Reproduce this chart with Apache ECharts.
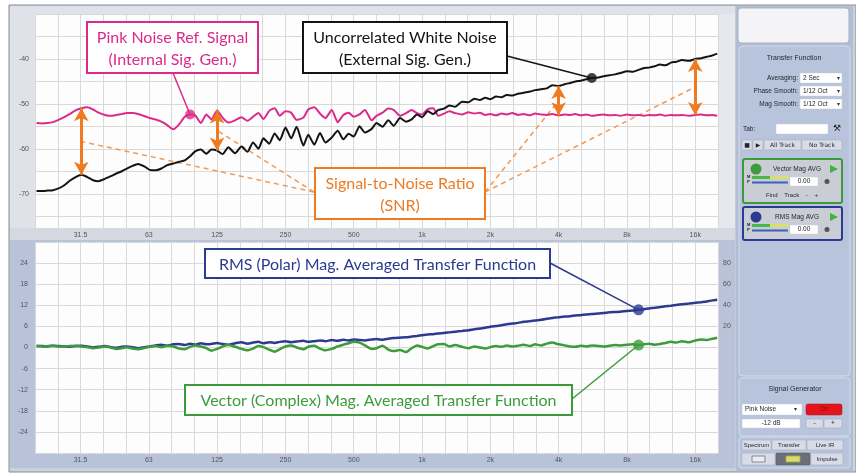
<!DOCTYPE html>
<html>
<head>
<meta charset="utf-8">
<script src="https://cdn.jsdelivr.net/npm/echarts@6/dist/echarts.min.js"></script>
<style>
html,body{margin:0;padding:0;background:#fff;}
#c{width:856px;height:473px;}
</style>
</head>
<body>
<div id="c"></div>
<script>
// 1/12-octave frequency points (Hz)
const freqHz = [
  20, 21.2, 22.4, 23.6, 25, 26.5, 28, 30, 31.5, 33.5,
  35.5, 37.5, 40, 42.5, 45, 47.5, 50, 53, 56, 60,
  63, 67, 71, 75, 80, 85, 90, 95, 100, 106,
  112, 118, 125, 132, 140, 150, 160, 170, 180, 190,
  200, 212, 224, 236, 250, 265, 280, 300, 315, 335,
  355, 375, 400, 425, 450, 475, 500, 530, 560, 600,
  630, 670, 710, 750, 800, 850, 900, 950, 1000, 1060,
  1120, 1180, 1250, 1320, 1400, 1500, 1600, 1700, 1800, 1900,
  2000, 2120, 2240, 2360, 2500, 2650, 2800, 3000, 3150, 3350,
  3550, 3750, 4000, 4250, 4500, 4750, 5000, 5300, 5600, 6000,
  6300, 6700, 7100, 7500, 8000, 8500, 9000, 9500, 10000, 10600,
  11200, 11800, 12500, 13200, 14000, 15000, 16000, 17000, 18000, 19000,
  20000
];

// RTA: internal pink-noise reference (dB)
const pinkNoiseDb = [
  -54.2, -54.3, -54.2, -54.0, -53.5, -52.9, -52.2, -51.3, -50.9, -50.7,
  -51.2, -51.9, -52.4, -52.6, -52.4, -52.2, -52.0, -52.0, -52.2, -52.7,
  -53.1, -53.4, -53.9, -54.6, -55.6, -54.5, -52.8, -52.3, -52.5, -54.2,
  -52.3, -53.4, -51.4, -53.0, -54.1, -53.6, -52.9, -53.7, -52.8, -52.0,
  -53.3, -51.5, -50.9, -52.6, -51.6, -51.9, -53.5, -53.0, -51.2, -50.7,
  -52.1, -53.1, -51.3, -54.0, -52.4, -51.9, -52.8, -52.3, -51.3, -53.6,
  -52.6, -51.9, -51.0, -51.3, -52.6, -52.0, -51.3, -52.0, -52.3, -51.1,
  -50.9, -52.6, -52.1, -51.6, -52.0, -52.3, -51.8, -52.1, -51.9, -52.4,
  -52.2, -52.5, -52.1, -52.3, -52.0, -52.4, -52.2, -52.5, -52.1, -52.3,
  -52.4, -52.2, -52.5, -52.3, -52.4, -52.2, -52.5, -52.3, -52.6, -52.4,
  -52.3, -52.5, -52.4, -52.6, -52.3, -52.5, -52.4, -52.6, -52.4, -52.5,
  -52.3, -52.6, -52.4, -52.5, -52.4, -52.6, -52.4, -52.3, -52.5, -52.4,
  -52.6
];

// RTA: uncorrelated white noise from the external generator (dB)
const whiteNoiseDb = [
  -69.3, -69.3, -69.2, -69.1, -68.7, -68.0, -67.0, -66.1, -65.7, -66.2,
  -66.9, -67.1, -66.6, -66.0, -65.4, -64.9, -64.3, -63.7, -63.3, -63.9,
  -64.6, -64.7, -64.3, -63.6, -63.2, -62.8, -62.5, -61.6, -60.5, -60.1,
  -61.0, -60.1, -60.3, -61.1, -59.6, -60.9, -59.4, -60.6, -58.5, -59.9,
  -57.6, -58.8, -56.5, -58.0, -55.2, -57.6, -55.0, -59.2, -56.8, -59.0,
  -56.4, -58.5, -57.4, -55.9, -57.8, -56.6, -57.2, -54.9, -56.3, -55.5,
  -54.2, -55.0, -53.6, -54.8, -53.1, -53.9, -53.4, -52.3, -52.9, -51.6,
  -52.2, -51.3, -51.0, -50.3, -50.6, -49.5, -49.6, -48.8, -49.1, -48.6,
  -48.9, -48.3, -48.5, -48.0, -48.1, -47.7, -47.5, -47.2, -46.9, -46.7,
  -46.5, -45.8, -46.0, -45.6, -45.3, -45.0, -44.8, -44.5, -44.2, -44.1,
  -43.8, -43.6, -43.4, -43.1, -42.7, -42.8, -42.4, -42.0, -41.9, -41.6,
  -41.2, -41.4, -40.8, -40.6, -40.2, -40.4, -40.0, -39.8, -39.5, -39.2,
  -38.8
];

// Transfer function: RMS (polar) magnitude average (dB)
const rmsMagDb = [
  0.4, 0.4, 0.3, 0.5, 0.4, 0.3, 0.2, 0.4, 0.5, 0.3,
  0.0, 0.2, 0.4, 0.1, -0.1, 0.2, 0.3, 0.1, -0.2, 0.1,
  0.3, 0.6, 0.8, 0.5, 0.9, 1.0, 0.7, 1.1, 0.8, 1.2,
  0.9, 1.0, 1.3, 1.0, 0.8, 1.2, 1.5, 1.1, 1.4, 1.6,
  1.2, 1.5, 1.3, 1.6, 1.8, 1.5, 1.7, 1.9, 1.6, 1.8,
  2.0, 1.8, 2.1, 1.9, 2.2, 2.0, 2.3, 2.1, 2.0, 2.3,
  2.4, 2.2, 2.5, 2.7, 2.8, 2.9, 3.1, 3.3, 3.5, 3.7,
  3.8, 4.0, 4.1, 4.3, 4.5, 4.7, 4.9, 5.2, 5.4, 5.6,
  5.9, 6.1, 6.3, 6.6, 6.8, 7.0, 7.3, 7.5, 7.7, 7.9,
  8.2, 8.4, 8.6, 8.8, 8.9, 9.1, 9.2, 9.4, 9.5, 9.7,
  9.8, 10.0, 10.1, 10.2, 10.4, 10.5, 10.7, 10.9, 11.1, 11.3,
  11.5, 11.7, 11.9, 12.1, 12.3, 12.5, 12.7, 12.9, 13.1, 13.4,
  13.6
];

// Transfer function: vector (complex) magnitude average (dB)
const vectorMagDb = [
  0.4, 0.3, 0.4, 0.5, 0.3, 0.2, 0.4, 0.5, 0.3, 0.1,
  -0.2, 0.0, 0.3, 0.0, -0.4, -0.2, 0.1, -0.3, -0.5, -0.1,
  0.2, 0.4, 0.1, 0.5, 0.3, -0.3, -0.5, 0.2, 0.6, 0.3,
  -0.2, -0.9, -0.4, 0.3, 0.7, 0.2, -0.4, -0.8, -0.3, 0.4,
  0.1, -0.6, -1.2, -0.5, 0.3, 0.6, 0.0, -0.5, 0.2, 0.5,
  -0.3, -0.8, -0.4, 0.3, 0.8, 1.2, 1.6, 1.4, 0.6, -0.4,
  -0.2, 0.5, -0.6, -1.0, -0.7, -1.3, -0.2, 0.6, 0.2, -0.3,
  0.4, 0.9, 1.0, 0.3, 0.7, 0.2, -0.2, 0.3, 0.0, -0.3,
  0.1, 0.4, 0.2, 0.6, 0.3, 0.5, 0.8, 0.4, 0.9, 0.6,
  1.1, 1.4, 0.9, 0.6, 0.3, 0.2, 0.5, 0.3, 0.6, 0.4,
  0.3, 0.5, 0.7, 0.6, 0.8, 0.9, 0.7, 0.9, 1.1, 0.8,
  1.0, 1.3, 1.6, 1.4, 1.8, 1.5, 2.0, 2.3, 2.1, 2.5,
  2.8
];

// octave tick labels (positions in 1/3-octave bands re 1 kHz)
const octaveBands  = [-15, -12, -9, -6, -3, 0, 3, 6, 9, 12];
const octaveLabels = ['31.5', '63', '125', '250', '500', '1k', '2k', '4k', '8k', '16k'];

// points picked out on each trace
const pinkMarkIdx = 27;
const whiteMarkIdx = 98;
const rmsMarkIdx = 106;
const vectorMarkIdx = 106;
// frequencies where the signal-to-noise gap is shown
const snrIdx = [8, 32, 92, 116];

const PINK = '#dc2a8b', BLACK = '#141414', BLUE = '#2d3a92', GREEN = '#3c9c3c', ORANGE = '#ee7b22';

const band = f => 3 * Math.log2(f / 1000);
const pts = arr => freqHz.map((f, i) => [band(f), arr[i]]);
const pt = (arr, i) => [band(freqHz[i]), arr[i]];

function octaveLabel(v) {
  const r = Math.round(v);
  if (Math.abs(v - r) > 1e-6) return '';
  const k = octaveBands.indexOf(r);
  return k >= 0 ? octaveLabels[k] : '';
}

const chart = echarts.init(document.getElementById('c'), null, { width: 856, height: 473 });

const xAxisBase = {
  type: 'value', min: -17, max: 13, interval: 1,
  axisLine: { show: false }, axisTick: { show: false },
  splitLine: { lineStyle: { color: '#d9d9d9', width: 1 } },
  axisLabel: { fontSize: 7, color: '#555', margin: 4, fontFamily: 'Liberation Sans', formatter: octaveLabel }
};
const tinyLabel = { fontSize: 7, color: '#555', fontFamily: 'Liberation Sans' };

chart.setOption({
  animation: false,
  grid: [
    { left: 35, top: 14, width: 683, height: 214, show: true, backgroundColor: '#fdfdfd', borderWidth: 0 },
    { left: 35, top: 242, width: 683, height: 211, show: true, backgroundColor: '#fdfdfd', borderWidth: 0 }
  ],
  xAxis: [
    Object.assign({ gridIndex: 0 }, xAxisBase),
    Object.assign({ gridIndex: 1 }, xAxisBase)
  ],
  yAxis: [
    {
      type: 'value', gridIndex: 0, min: -77.5, max: -30, interval: 2.5,
      axisLine: { show: false }, axisTick: { show: false },
      splitLine: { lineStyle: { color: ['rgba(0,0,0,0)', '#d9d9d9'] } },
      axisLabel: Object.assign({ margin: 6, formatter: v => (Math.abs(v % 10) < 1e-6 && v >= -70 && v <= -40) ? String(v) : '' }, tinyLabel)
    },
    {
      type: 'value', gridIndex: 1, min: -30, max: 30, interval: 6,
      axisLine: { show: false }, axisTick: { show: false },
      splitLine: { lineStyle: { color: '#d9d9d9' } },
      axisLabel: Object.assign({ margin: 7, formatter: v => Math.abs(v) >= 30 ? '' : String(v) }, tinyLabel)
    },
    {
      type: 'value', gridIndex: 1, position: 'right', min: -100, max: 100, interval: 20,
      axisLine: { show: false }, axisTick: { show: false }, splitLine: { show: false },
      axisLabel: Object.assign({ margin: 5, formatter: v => (v > 0 && v < 100) ? String(v) : '' }, tinyLabel)
    }
  ],
  series: [
    {
      name: 'Pink Noise', type: 'line', xAxisIndex: 0, yAxisIndex: 0, data: pts(pinkNoiseDb),
      showSymbol: false, smooth: 0.2, lineStyle: { color: PINK, width: 2 }, z: 3
    },
    {
      name: 'White Noise', type: 'line', xAxisIndex: 0, yAxisIndex: 0, data: pts(whiteNoiseDb),
      showSymbol: false, smooth: 0.2, lineStyle: { color: BLACK, width: 2 }, z: 4,
      markLine: {
        silent: true, symbol: ['arrow', 'arrow'], symbolSize: [11, 13],
        lineStyle: { color: ORANGE, width: 3, type: 'solid' }, label: { show: false },
        data: snrIdx.map(i => [{ coord: pt(pinkNoiseDb, i) }, { coord: pt(whiteNoiseDb, i) }])
      }
    },
    {
      type: 'scatter', xAxisIndex: 0, yAxisIndex: 0, data: [pt(pinkNoiseDb, pinkMarkIdx)],
      symbolSize: 10, itemStyle: { color: PINK }, z: 6
    },
    {
      type: 'scatter', xAxisIndex: 0, yAxisIndex: 0, data: [pt(whiteNoiseDb, whiteMarkIdx)],
      symbolSize: 10, itemStyle: { color: BLACK }, z: 6
    },
    {
      name: 'RMS Mag AVG', type: 'line', xAxisIndex: 1, yAxisIndex: 1, data: pts(rmsMagDb),
      showSymbol: false, smooth: 0.2, lineStyle: { color: BLUE, width: 2.5 }, z: 3
    },
    {
      name: 'Vector Mag AVG', type: 'line', xAxisIndex: 1, yAxisIndex: 1, data: pts(vectorMagDb),
      showSymbol: false, smooth: 0.2, lineStyle: { color: GREEN, width: 2.5 }, z: 4
    },
    {
      type: 'scatter', xAxisIndex: 1, yAxisIndex: 1, data: [pt(rmsMagDb, rmsMarkIdx)],
      symbolSize: 11, itemStyle: { color: BLUE }, z: 6
    },
    {
      type: 'scatter', xAxisIndex: 1, yAxisIndex: 1, data: [pt(vectorMagDb, vectorMarkIdx)],
      symbolSize: 11, itemStyle: { color: GREEN }, z: 6
    }
  ]
});

// ---- helpers for the surrounding window chrome and callouts ----
function rect(x, y, w, h, fill, stroke, lw, r, z) {
  return { type: 'rect', silent: true, z: z == null ? -20 : z,
    shape: { x: x, y: y, width: w, height: h, r: r || 0 },
    style: { fill: fill || 'none', stroke: stroke || null, lineWidth: lw || 0 } };
}
function text(x, y, str, size, color, align, weight, family, z, lh) {
  return { type: 'text', silent: true, z: z == null ? -10 : z, x: x, y: y,
    style: { text: str, fill: color || '#222', textAlign: align || 'left', textVerticalAlign: 'middle',
      font: (weight || 'normal') + ' ' + size + 'px ' + (family || '"Liberation Sans", sans-serif'),
      lineHeight: lh || Math.round(size * 1.2) } };
}
function line(p1, p2, color, width, dash, z) {
  return { type: 'line', silent: true, z: z == null ? 5 : z,
    shape: { x1: p1[0], y1: p1[1], x2: p2[0], y2: p2[1] },
    style: { stroke: color, lineWidth: width, lineDash: dash || null } };
}
function circle(cx, cy, r, fill, z) {
  return { type: 'circle', silent: true, z: z == null ? -10 : z, shape: { cx: cx, cy: cy, r: r }, style: { fill: fill } };
}
function callout(x, y, w, h, color, str, size) {
  return [
    rect(x, y, w, h, '#ffffff', color, 2, 0, 20),
    text(x + w / 2, y + h / 2 + 1, str, size, color, 'center', 'normal', 'Lato, sans-serif', 21, Math.round(size * 1.4))
  ];
}

const g = [];
// window frame and panels
g.push(rect(9, 5, 847, 467, '#cdd1da', '#8a8d94', 1, 0, -60));
g.push(rect(10, 6, 725, 234, '#e0e2e9', null, 0, 0, -50));
g.push(rect(10, 228, 725, 12, '#d6d9e1', null, 0, 0, -49));
g.push(rect(718, 14, 17, 214, '#e7e8ee', null, 0, 0, -49));
g.push(rect(10, 240, 725, 228, '#b8c3da', null, 0, 0, -50));
g.push(line([735.5, 6], [735.5, 468], '#c5cad4', 1, null, -45));

// corner captions inside the plots
g.push(text(41, 20, 'RTA \u25BC', 6, '#333', 'left', 'bold'));
g.push(text(712, 20, 'RTA CH 03 \u25BC', 6, '#333', 'right', 'bold'));
g.push(text(41, 247, 'Magnitude \u25BC', 6, '#333', 'left', 'bold'));
g.push(text(713, 247, 'Vector Mag AVG \u25BC', 6, '#333', 'right', 'bold'));
g.push(text(714, 347, '5%', 5, '#999', 'right'));

// side control panel
g.push(rect(736, 6, 117, 465, '#b2bed5', null, 0, 0, -50));
g.push(rect(738, 8, 111, 35, '#f4f4f7', '#a9b1c1', 1, 3, -45));
g.push(rect(739, 46, 111, 330, '#b8c4db', '#d4dbea', 1, 4, -45));
g.push(text(794, 58, 'Transfer Function', 7, '#1e2330', 'center'));
[['Averaging:', '2 Sec', 78], ['Phase Smooth:', '1/12 Oct', 91], ['Mag Smooth:', '1/12 Oct', 104]].forEach(r => {
  g.push(text(798, r[2], r[0], 6.5, '#1e2330', 'right'));
  g.push(rect(800, r[2] - 5, 42, 10, '#ffffff', '#c8ccd6', 0.5, 1, -30));
  g.push(text(803, r[2], r[1], 6.5, '#1e2330', 'left'));
  g.push(text(838, r[2], '\u25BE', 6, '#333', 'center'));
});
g.push(text(743, 129, 'Tab:', 6.5, '#1e2330', 'left'));
g.push(rect(776, 124, 52, 10, '#ffffff', '#c8ccd6', 0.5, 1, -30));
g.push(text(837, 129, '\u2692', 9, '#222', 'center', 'normal', '"DejaVu Sans", sans-serif'));
[[742, 10, '\u25A0'], [753, 10, '\u25B6'], [764, 37, 'All Track'], [802, 40, 'No Track']].forEach(b => {
  g.push(rect(b[0], 140, b[1], 10, '#d7dce6', '#9ea6b6', 0.5, 1, -30));
  g.push(text(b[0] + b[1] / 2, 145.5, b[2], 6, '#1e2330', 'center', 'normal', '"DejaVu Sans", sans-serif'));
});

// measurement cards
function card(y, h, color, title, showFind) {
  g.push(rect(743, y, 99, h, '#cacdd3', color, 2, 2, -30));
  g.push(circle(756, y + 10, 5.5, color, -25));
  g.push(text(797, y + 10, title, 6.5, '#1e2330', 'center'));
  g.push({ type: 'polygon', silent: true, z: -25, shape: { points: [[830, y + 6], [830, y + 14], [838, y + 10]] }, style: { fill: '#3fb23f' } });
  g.push(text(747, y + 18, 'M', 4, '#222', 'left', 'bold'));
  g.push(rect(752, y + 17, 36, 3, '#d8e06a', null, 0, 0, -25));
  g.push(rect(752, y + 17, 18, 3, '#4cb84c', null, 0, 0, -24));
  g.push(text(747, y + 23, 'P', 4, '#222', 'left', 'bold'));
  g.push(rect(752, y + 22.5, 36, 2, '#3b5fc4', null, 0, 0, -25));
  g.push(rect(790, y + 18, 28, 9, '#ffffff', '#c8ccd6', 0.5, 0, -25));
  g.push(text(804, y + 22.5, '0.00', 6.5, '#1e2330', 'center'));
  g.push(circle(827, y + 22.5, 2.5, '#555', -25));
  if (showFind) g.push(text(792, y + 36, 'Find    Track    -    +', 6, '#1e2330', 'center'));
}
card(159, 44, GREEN, 'Vector Mag AVG', true);
card(207, 33, BLUE, 'RMS Mag AVG', false);

// signal generator block
g.push(rect(739, 378, 111, 58, '#b8c4db', '#d4dbea', 1, 3, -45));
g.push(text(795, 389, 'Signal Generator', 7, '#1e2330', 'center'));
g.push(rect(742, 404, 60, 11, '#ffffff', '#c8ccd6', 0.5, 1, -30));
g.push(text(745, 409.5, 'Pink Noise', 6.5, '#1e2330', 'left'));
g.push(text(795, 409.5, '\u25BE', 6, '#333', 'center'));
g.push(rect(806, 404, 36, 11, '#e3141c', '#b20d12', 0.5, 2, -30));
g.push(text(824, 409.5, 'On', 6.5, '#8a0a0e', 'center'));
g.push(rect(742, 419, 58, 9, '#ffffff', '#c8ccd6', 0.5, 1, -30));
g.push(text(771, 423.5, '-12 dB', 6.5, '#1e2330', 'center'));
g.push(rect(806, 419, 17, 9, '#d7dce6', '#9ea6b6', 0.5, 1, -30));
g.push(rect(824, 419, 18, 9, '#d7dce6', '#9ea6b6', 0.5, 1, -30));
g.push(text(814.5, 423.5, '-', 6.5, '#1e2330', 'center'));
g.push(text(833, 423.5, '+', 6.5, '#1e2330', 'center'));
g.push(rect(739, 437, 111, 31, '#b8c4db', '#d4dbea', 1, 3, -45));
[[742, 29, 'Spectrum'], [772, 34, 'Transfer'], [807, 36, 'Live IR']].forEach(b => {
  g.push(rect(b[0], 440, b[1], 10, '#d7dce6', '#9ea6b6', 0.5, 1, -30));
  g.push(text(b[0] + b[1] / 2, 445.5, b[2], 6, '#1e2330', 'center'));
});
g.push(rect(742, 453, 33, 12, '#d7dce6', '#9ea6b6', 0.5, 1, -30));
g.push(rect(752, 456, 13, 6, '#e9ecf2', '#6b7280', 0.8, 0, -29));
g.push(rect(776, 453, 34, 12, '#6a6f78', '#50545c', 0.5, 1, -30));
g.push(rect(786, 456, 14, 6, '#d8dc6a', '#a6a94a', 0.8, 0, -29));
g.push(rect(811, 453, 32, 12, '#d7dce6', '#9ea6b6', 0.5, 1, -30));
g.push(text(827, 459, 'Impulse', 6, '#1e2330', 'center'));

// callouts with leader lines to the marked points
const px = (seriesIndex, p) => chart.convertToPixel({ seriesIndex: seriesIndex }, p);
const pinkPx = px(0, pt(pinkNoiseDb, pinkMarkIdx));
const whitePx = px(1, pt(whiteNoiseDb, whiteMarkIdx));
const rmsPx = px(4, pt(rmsMagDb, rmsMarkIdx));
const vecPx = px(5, pt(vectorMagDb, vectorMarkIdx));

g.push(line([173, 73], pinkPx, PINK, 1.5));
g.push(line([507, 56], whitePx, BLACK, 1.5));
g.push(line([550, 263], rmsPx, BLUE, 1.5));
g.push(line([572, 399], vecPx, GREEN, 1.5));

// dashed pointers from the SNR box to the middle of each gap arrow
const snrMid = snrIdx.map(i => px(1, [band(freqHz[i]), (pinkNoiseDb[i] + whiteNoiseDb[i]) / 2]));
g.push(line([314, 192], snrMid[0], '#f29a55', 1.5, [5, 4], 1));
g.push(line([314, 192], snrMid[1], '#f29a55', 1.5, [5, 4], 1));
g.push(line([485, 192], snrMid[2], '#f29a55', 1.5, [5, 4], 1));
g.push(line([485, 192], snrMid[3], '#f29a55', 1.5, [5, 4], 1));

callout(87, 22, 171, 51, PINK, 'Pink Noise Ref. Signal\n(Internal Sig. Gen.)', 16).forEach(e => g.push(e));
callout(303, 22, 204, 51, BLACK, 'Uncorrelated White Noise\n(External Sig. Gen.)', 16).forEach(e => g.push(e));
callout(315, 168, 170, 51, ORANGE, 'Signal-to-Noise Ratio\n(SNR)', 16).forEach(e => g.push(e));
callout(205, 249, 345, 29, BLUE, 'RMS (Polar) Mag. Averaged Transfer Function', 16).forEach(e => g.push(e));
callout(185, 385, 387, 30, GREEN, 'Vector (Complex) Mag. Averaged Transfer Function', 16).forEach(e => g.push(e));

chart.setOption({ graphic: { elements: g } });
</script>
</body>
</html>
